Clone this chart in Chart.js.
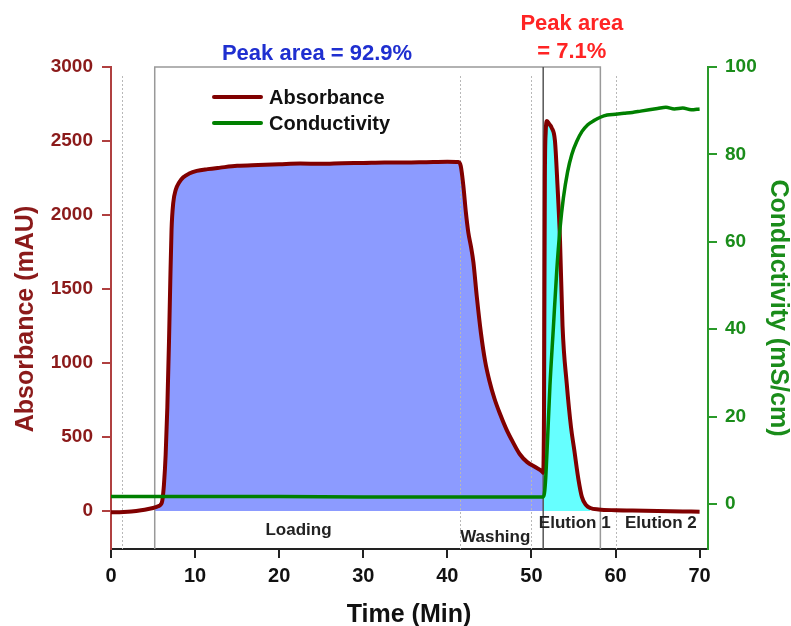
<!DOCTYPE html>
<html>
<head>
<meta charset="utf-8">
<script src="https://cdn.jsdelivr.net/npm/chart.js@4/dist/chart.umd.min.js"></script>
<style>
  html, body { margin: 0; padding: 0; background: #fff; }
  canvas { display: block; }
</style>
</head>
<body>
<canvas id="chart" width="791" height="626"></canvas>
<script>
// time (min) and absorbance (mAU)
const absTime = [0, 1, 2, 3, 4, 5, 5.2, 5.6, 5.9, 6.1, 6.3, 6.5, 6.7, 6.9, 7.05, 7.2, 7.4, 7.7, 8.1, 8.6, 9.3, 10.2, 11.5, 13, 15, 17.5, 20, 22.5, 25, 27.5, 30, 32.5, 35, 37.5, 40, 41.3,
  41.6, 41.9, 42.2, 42.5, 42.8, 43.1, 43.5, 44.0, 44.5, 45.0, 45.6, 46.2, 47.0, 47.8, 48.6, 49.5, 50.5, 51.3, 51.4,
  51.5, 51.6, 51.7, 51.85, 52.1, 52.4, 52.8, 53.1, 53.4, 53.7, 54.2, 54.7, 55.1, 55.6, 56.0, 56.5, 57.0, 58, 60, 62, 65, 68, 70]
const absorbance = [-8, -8, -6, 0, 8, 20, 24, 32, 42, 70, 180, 380, 700, 1150, 1550, 1900, 2080, 2170, 2220, 2255, 2280, 2298, 2310, 2320, 2332, 2338, 2343, 2348, 2346, 2350, 2352, 2355, 2354, 2357, 2360, 2358,
  2330, 2200, 2020, 1880, 1790, 1680, 1450, 1200, 1010, 880, 760, 665, 555, 465, 385, 330, 295, 265, 258,
  700, 2250, 2560, 2635, 2615, 2590, 2500, 2200, 1830, 1250, 860, 570, 410, 210, 95, 40, 20, 10, 5, 3, 0, -3, -5]

// time (min) and conductivity (mS/cm)
const condTime = [0, 10, 20, 30, 40, 51.4, 51.55, 51.7, 51.9, 52.2, 52.6, 53.0, 53.4, 53.8, 54.3, 54.8, 55.4, 56.0, 56.7, 57.5, 58.2, 59, 60, 61, 62, 63, 64, 65, 66, 67, 68, 69, 70]
const conductivity = [1.7, 1.7, 1.7, 1.6, 1.6, 1.6, 2.5, 6, 14, 27, 40, 53, 63, 70, 76, 80, 83, 85.2, 86.8, 87.8, 88.5, 89, 89.2, 89.4, 89.6, 89.9, 90.2, 90.5, 90.8, 90.4, 90.6, 90.2, 90.4]

const timeTicks = [0, 10, 20, 30, 40, 50, 60, 70]
const absTicks = [0, 500, 1000, 1500, 2000, 2500, 3000]
const condTicks = [0, 20, 40, 60, 80, 100]

// run phases (min)
const loadStart = 5.2
const elutionStart = 51.4
const elutionEnd = 57.5
const boxEnd = 58.2
const dottedTimes = [1.3, 41.5, 50, 60]

const FONT = '"Liberation Sans", Arial, sans-serif'
const RED = '#800000'
const RED_TEXT = '#8b1a1a'
const GREEN = '#008000'
const GREEN_TEXT = '#1a8c1a'

const toPoints = (xs, ys) => xs.map((x, i) => ({ x, y: ys[i] }))
const absPoints = toPoints(absTime, absorbance)
const loadPoints = absPoints.filter(p => p.x >= loadStart && p.x <= elutionStart)
const elutePoints = absPoints.filter(p => p.x >= elutionStart && p.x <= elutionEnd)

const ABS_LINE = 2

const decor = {
  id: 'decor',
  beforeDatasetDraw(chart, args) {
    if (args.index !== ABS_LINE) return
    const { ctx, chartArea, scales } = chart
    const x = scales.x
    const top = chartArea.top
    const bottom = chartArea.bottom
    ctx.save()
    ctx.strokeStyle = '#b8b8b8'
    ctx.lineWidth = 1
    ctx.setLineDash([2, 2])
    dottedTimes.forEach(t => {
      const px = Math.round(x.getPixelForValue(t)) + 0.5
      ctx.beginPath(); ctx.moveTo(px, top + 9); ctx.lineTo(px, bottom); ctx.stroke()
    })
    ctx.setLineDash([])
    ctx.strokeStyle = '#999'
    ctx.lineWidth = 1.5
    const l = x.getPixelForValue(loadStart)
    const r = x.getPixelForValue(boxEnd)
    ctx.beginPath()
    ctx.moveTo(l, bottom); ctx.lineTo(l, top); ctx.lineTo(r, top); ctx.lineTo(r, bottom)
    ctx.stroke()
    ctx.strokeStyle = '#555'
    const e = x.getPixelForValue(elutionStart)
    ctx.beginPath(); ctx.moveTo(e, top); ctx.lineTo(e, bottom); ctx.stroke()
    ctx.restore()
  },
  afterDraw(chart) {
    const { ctx, scales } = chart
    const px = t => scales.x.getPixelForValue(t)
    const py = v => scales.y.getPixelForValue(v)
    ctx.save()
    ctx.textAlign = 'center'
    ctx.textBaseline = 'alphabetic'

    ctx.font = `bold 22px ${FONT}`
    ctx.fillStyle = '#1f2fd0'
    ctx.fillText('Peak area = 92.9%', px(24.5), py(3047))
    ctx.fillStyle = '#ff2424'
    ctx.fillText('Peak area', px(54.8), py(3250))
    ctx.fillText('= 7.1%', px(54.8), py(3061))

    ctx.font = `bold 17px ${FONT}`
    ctx.fillStyle = '#222'
    ctx.fillText('Loading', px(22.3), py(-162))
    ctx.fillText('Washing', px(45.7), py(-209))
    ctx.fillText('Elution 1', px(55.15), py(-115))
    ctx.fillText('Elution 2', px(65.4), py(-115))

    // legend
    ctx.lineWidth = 4
    ctx.lineCap = 'round'
    ;[[RED, 'Absorbance', 97], [GREEN, 'Conductivity', 123]].forEach(([c, label, y]) => {
      ctx.strokeStyle = c
      ctx.beginPath(); ctx.moveTo(214, y); ctx.lineTo(261, y); ctx.stroke()
      ctx.fillStyle = '#111'
      ctx.font = `bold 20px ${FONT}`
      ctx.textAlign = 'left'
      ctx.fillText(label, 269, y + 7)
    })

    // axis titles
    ctx.textAlign = 'center'
    ctx.font = `bold 25px ${FONT}`
    ctx.fillStyle = '#111'
    ctx.fillText('Time (Min)', 409, 622)

    ctx.fillStyle = RED_TEXT
    ctx.translate(33, 319)
    ctx.rotate(-Math.PI / 2)
    ctx.fillText('Absorbance (mAU)', 0, 0)
    ctx.setTransform(1, 0, 0, 1, 0, 0)

    ctx.fillStyle = GREEN_TEXT
    ctx.translate(771, 308)
    ctx.rotate(Math.PI / 2)
    ctx.fillText('Conductivity (mS/cm)', 0, 0)
    ctx.restore()
  }
}

const tickFont = size => ({ family: FONT, size, weight: 'bold' })

new Chart(document.getElementById('chart').getContext('2d'), {
  type: 'line',
  data: {
    datasets: [
      {
        label: 'Loading fill', data: loadPoints, yAxisID: 'y', order: 2,
        fill: 'origin', backgroundColor: '#8c9bff', borderWidth: 0, pointRadius: 0,
        cubicInterpolationMode: 'monotone',
      },
      {
        label: 'Elution fill', data: elutePoints, yAxisID: 'y', order: 2,
        fill: 'origin', backgroundColor: '#66ffff', borderWidth: 0, pointRadius: 0,
        cubicInterpolationMode: 'monotone',
      },
      {
        label: 'Absorbance', data: absPoints, yAxisID: 'y', order: 1,
        borderColor: RED, borderWidth: 4, pointRadius: 0, fill: false,
        cubicInterpolationMode: 'monotone',
      },
      {
        label: 'Conductivity', data: toPoints(condTime, conductivity), yAxisID: 'y1', order: 0,
        borderColor: GREEN, borderWidth: 3.5, pointRadius: 0, fill: false,
        cubicInterpolationMode: 'monotone',
      },
    ],
  },
  options: {
    responsive: false,
    animation: false,
    layout: { padding: { top: 67, left: 0, right: 0, bottom: 0 } },
    plugins: { legend: { display: false }, tooltip: { enabled: false } },
    scales: {
      x: {
        type: 'linear', min: 0, max: 71,
        afterFit: s => { s.height = 77 },
        afterBuildTicks: s => { s.ticks = timeTicks.map(value => ({ value })) },
        grid: { drawOnChartArea: false, tickLength: 9, color: '#222', lineWidth: 2 },
        border: { color: '#222', width: 2 },
        ticks: { color: '#111', font: tickFont(20), padding: 6, maxRotation: 0, callback: v => String(v) },
      },
      y: {
        type: 'linear', position: 'left', min: -257, max: 3000,
        afterFit: s => { s.width = 111 },
        afterBuildTicks: s => { s.ticks = absTicks.map(value => ({ value })) },
        grid: { drawOnChartArea: false, tickLength: 9, color: '#b04040', lineWidth: 2 },
        border: { color: '#b04040', width: 2 },
        ticks: { color: RED_TEXT, font: tickFont(19), padding: 9, callback: v => String(v) },
      },
      y1: {
        type: 'linear', position: 'right', min: -10.3, max: 100,
        afterFit: s => { s.width = 83 },
        afterBuildTicks: s => { s.ticks = condTicks.map(value => ({ value })) },
        grid: { drawOnChartArea: false, tickLength: 9, color: '#2a9a2a', lineWidth: 2 },
        border: { color: '#2a9a2a', width: 2 },
        ticks: { color: GREEN_TEXT, font: tickFont(19), padding: 8, callback: v => String(v) },
      },
    },
  },
  plugins: [decor],
})
</script>
</body>
</html>
